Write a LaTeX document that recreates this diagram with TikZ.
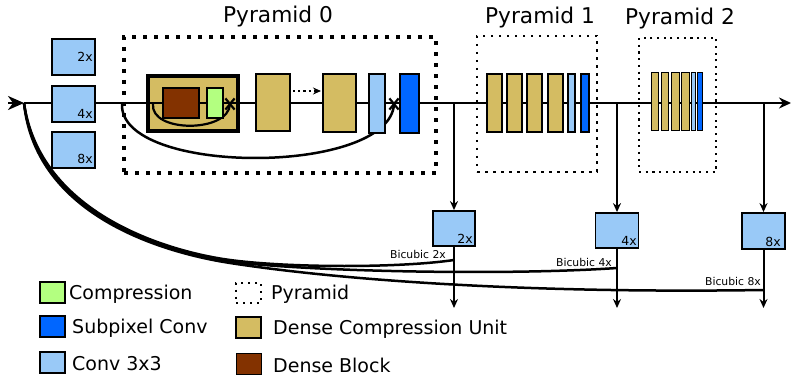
\documentclass[tikz,border=0pt]{standalone}
\usepackage{fontspec}
\setmainfont{DejaVu Sans}
\usetikzlibrary{arrows.meta,shapes.misc}
\definecolor{dcucol}{HTML}{D4BC62}
\definecolor{densecol}{HTML}{833200}
\definecolor{compcol}{HTML}{B3FF80}
\definecolor{convcol}{HTML}{99C9F7}
\definecolor{subcol}{HTML}{0066FF}
\begin{document}
\begin{tikzpicture}[x=1pt,y=-1pt,
  blk/.style={draw=black, line width=1.8pt, inner sep=0pt, rectangle},
  thinblk/.style={draw=black, line width=1.1pt, inner sep=0pt, rectangle},
  mainln/.style={line width=2.4pt},
  skipln/.style={line width=2.5pt},
  bicln/.style={line width=2.5pt},
  pyrzero/.style={draw, line width=4pt, dash pattern=on 3.8pt off 7.2pt, inner sep=0pt},
  pyrsmall/.style={draw, line width=2.5pt, dash pattern=on 2.5pt off 5.5pt, inner sep=0pt},
  title/.style={font=\fontsize{21.7}{24}\selectfont, anchor=base, inner sep=0pt},
  leg/.style={font=\fontsize{19}{21}\selectfont, anchor=base west, inner sep=0pt},
  small/.style={font=\fontsize{10.8}{12}\selectfont, anchor=base east, inner sep=0pt},
  boxlab/.style={font=\fontsize{12.5}{14}\selectfont, anchor=base east, inner sep=0pt},
  xmark/.style={draw, cross out, line width=2.2pt, minimum width=7pt, minimum height=9pt, inner sep=0pt},
  arr/.style={-{Stealth[length=9pt,width=8pt]}, line width=2pt},
]
\useasboundingbox (0,0) rectangle (791,379);

% big dense compression unit (drawn under main line)
\node[blk, line width=3.2pt, fill=dcucol, minimum width=90pt, minimum height=55pt] (dcu0) at (193,103.5) {};

% main line
\coordinate (lstart) at (24,103);
\coordinate (ltail) at (8,103);
\coordinate (rend) at (791,103);
\draw[mainln, -{Stealth[length=12pt,width=11pt]}] (lstart) -- (rend);
\draw[mainln, -{Stealth[length=16pt,width=14pt,inset=5pt]}] (ltail) -- (lstart);

% pyramid frames
\node[pyrzero, minimum width=312pt, minimum height=136pt] (p0) at (280,105) {};
\node[pyrsmall, minimum width=120pt, minimum height=136pt] (p1) at (537,104) {};
\node[pyrsmall, line width=2.1pt, dash pattern=on 2.1pt off 4.6pt, minimum width=77pt, minimum height=134pt] (p2) at (677.5,105) {};
\node[title] (t0) at (278,22.7) {Pyramid 0};
\node[title] (t1) at (540,24) {Pyramid 1};
\node[title] (t2) at (680,25) {Pyramid 2};

% skip connections in pyramid 0
\coordinate (x1c) at (230,104);
\coordinate (x2c) at (394,104);
\coordinate (s0) at (122,104);
\coordinate (s1) at (153,104);
\draw[skipln] (s0) .. controls (119,176) and (390,176) .. (x2c);
\draw[skipln, line width=2.2pt] (s1) .. controls (150,133) and (229,133) .. (x1c);

% blocks of pyramid 0
\node[blk, fill=densecol, minimum width=36pt, minimum height=30pt] (db) at (181,103) {};
\node[blk, fill=compcol, minimum width=16pt, minimum height=30pt] (cp) at (215,103) {};
\node[blk, fill=dcucol, minimum width=34pt, minimum height=57pt] (dcu1) at (273,102.5) {};
\node[blk, fill=dcucol, minimum width=33pt, minimum height=58pt] (dcu2) at (339.5,103) {};
\node[blk, fill=convcol, minimum width=16pt, minimum height=59pt] (cv0) at (377,103.5) {};
\node[blk, fill=subcol, minimum width=19pt, minimum height=59pt] (sp0) at (409.5,103.5) {};
\coordinate (da) at (293,91);
\coordinate (dz) at (321,91);
\draw[line width=2.2pt, dash pattern=on 2.2pt off 3pt, -{Stealth[length=8pt,width=7pt]}] (da) -- (dz);
\node[xmark] (x1) at (x1c) {};
\node[xmark] (x2) at (x2c) {};

% pyramid 1 blocks
\foreach \i/\cx in {1/494.5, 2/514.5, 3/534.5, 4/555.5}
  \node[blk, line width=1.3pt, fill=dcucol, minimum width=15pt, minimum height=58pt] (pa\i) at (\cx,103) {};
\node[blk, line width=1.3pt, fill=convcol, minimum width=7pt, minimum height=58pt] (pac) at (571.5,103) {};
\node[blk, line width=1.3pt, fill=subcol, minimum width=8pt, minimum height=58pt] (pas) at (585,103) {};

% pyramid 2 blocks
\foreach \i/\cx/\w in {1/654.5/7, 2/664.5/7, 3/675/8, 4/685/8}
  \node[blk, line width=0.7pt, fill=dcucol, minimum width=\w pt, minimum height=58pt] (pb\i) at (\cx,101) {};
\node[blk, line width=0.7pt, fill=convcol, minimum width=4pt, minimum height=58pt] (pbc) at (693,101) {};
\node[blk, line width=0.7pt, fill=subcol, minimum width=5pt, minimum height=58pt] (pbs) at (699.5,101) {};

% input boxes
\node[blk, fill=convcol, minimum width=43pt, minimum height=36pt] (in2) at (73.5,57) {};
\node[blk, fill=convcol, minimum width=43pt, minimum height=36pt] (in4) at (73.5,104) {};
\node[blk, fill=convcol, minimum width=43pt, minimum height=36pt] (in8) at (73.5,150) {};
\node[boxlab] (l2) at (93,61.5) {2x};
\node[boxlab] (l4) at (93,118.5) {4x};
\node[boxlab] (l8) at (93,164) {8x};

% output branches
\coordinate (b2) at (454,103);
\coordinate (b4) at (617,103);
\coordinate (b8) at (763.5,103);
\node[blk, fill=convcol, minimum width=42pt, minimum height=35pt] (o2) at (454,228.5) {};
\node[blk, fill=convcol, minimum width=43pt, minimum height=35pt] (o4) at (617,230.5) {};
\node[blk, fill=convcol, minimum width=43pt, minimum height=36pt] (o8) at (763.5,231) {};
\node[boxlab] (ol2) at (473,243.5) {2x};
\node[boxlab] (ol4) at (637,245.5) {4x};
\node[boxlab] (ol8) at (781,246) {8x};
\coordinate (e2) at (454,308);
\coordinate (e4) at (617,308);
\coordinate (e8) at (763.5,308);
\draw[arr] (b2) -- (o2.north);
\draw[arr] (b4) -- (o4.north);
\draw[arr] (b8) -- (o8.north);
\draw[arr] (o2.south) -- (e2);
\draw[arr] (o4.south) -- (e4);
\draw[arr] (o8.south) -- (e8);

% bicubic connections
\coordinate (bc2) at (454,260);
\coordinate (bc4) at (617,268);
\coordinate (bc8) at (763.5,290);
\coordinate (m2) at (230,260);
\coordinate (m4) at (230,261.5);
\coordinate (m8) at (230,263);
\draw[bicln] (bc2) .. controls (400,268) and (290,268) .. (m2)
  .. controls (170,252) and (40,215) .. (lstart);
\draw[bicln] (bc4) .. controls (500,276) and (300,271) .. (m4)
  .. controls (170,253.3) and (38,217) .. (lstart);
\draw[bicln] (bc8) .. controls (500,294) and (320,277) .. (m8)
  .. controls (170,253.7) and (36,219) .. (lstart);
\node[small] (bl2) at (446,258) {Bicubic 2x};
\node[small] (bl4) at (612,266) {Bicubic 4x};
\node[small] (bl8) at (761,285) {Bicubic 8x};

% legend
\node[thinblk, fill=compcol, minimum width=25pt, minimum height=21pt] (lg1) at (52.5,292.5) {};
\node[thinblk, fill=subcol, minimum width=25pt, minimum height=21pt] (lg2) at (52.5,326.5) {};
\node[thinblk, fill=convcol, minimum width=25pt, minimum height=21pt] (lg3) at (52.5,362.5) {};
\node[draw, line width=2pt, dash pattern=on 2pt off 5pt, inner sep=0pt, minimum width=25pt, minimum height=20pt] (lg4) at (248.5,292.5) {};
\node[thinblk, fill=dcucol, minimum width=25pt, minimum height=21pt] (lg5) at (248.5,327.5) {};
\node[thinblk, fill=densecol, minimum width=25pt, minimum height=21pt] (lg6) at (249,364) {};
\node[leg] (lt1) at (69,299) {Compression};
\node[leg] (lt2) at (72,333) {Subpixel Conv};
\node[leg] (lt3) at (72,370) {Conv 3x3};
\node[leg] (lt4) at (271,299) {Pyramid};
\node[leg] (lt5) at (273,334) {Dense Compression Unit};
\node[leg] (lt6) at (273,372) {Dense Block};
\end{tikzpicture}
\end{document}
